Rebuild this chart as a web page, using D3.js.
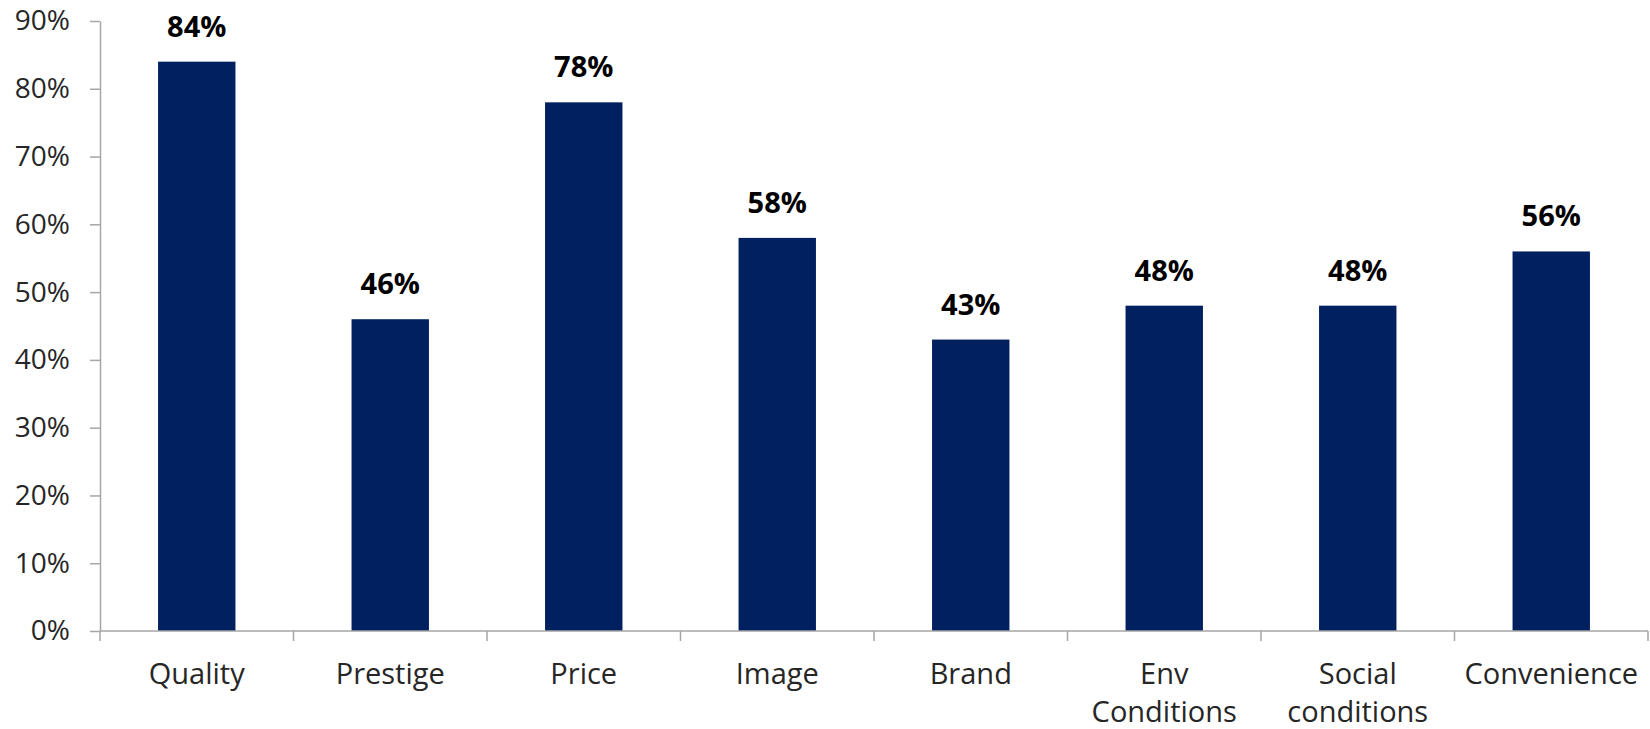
<!DOCTYPE html>
<html>
<head>
<meta charset="utf-8">
<script src="https://cdn.jsdelivr.net/npm/d3@7"></script>
<style>
  html, body { margin: 0; padding: 0; background: #fff; }
  svg { display: block; }
  text { font-family: "Open Sans", "Noto Sans", sans-serif; }
</style>
</head>
<body>
<svg id="chart" width="1650" height="729"></svg>
<script>
// Share of respondents naming each factor
const categories = ["Quality", "Prestige", "Price", "Image", "Brand", "Env Conditions", "Social conditions", "Convenience"];
const values = [0.84, 0.46, 0.78, 0.58, 0.43, 0.48, 0.48, 0.56];
const yTicks = [0, 0.1, 0.2, 0.3, 0.4, 0.5, 0.6, 0.7, 0.8, 0.9];

const W = 1650, H = 729;
const margin = { top: 21, right: 2, bottom: 98, left: 100 };
const innerW = W - margin.left - margin.right;
const innerH = H - margin.top - margin.bottom;

const svg = d3.select("#chart");
const g = svg.append("g").attr("transform", `translate(${margin.left},${margin.top})`);

const x = d3.scaleBand().domain(categories).range([0, innerW]).paddingInner(0.6).paddingOuter(0.3);
const y = d3.scaleLinear().domain([0, 0.9]).range([innerH, 0]);

const axisColor = "#a6a6a6";
const fmt = d3.format(".0%");

// Y axis
const yAxis = g.append("g")
  .call(d3.axisLeft(y).tickValues(yTicks).tickFormat(fmt).tickSize(10).tickSizeOuter(0).tickPadding(20));
yAxis.select(".domain").attr("stroke", axisColor).attr("stroke-width", 1.5);
yAxis.selectAll(".tick line").attr("stroke", axisColor).attr("stroke-width", 1.5);
yAxis.selectAll(".tick text")
  .attr("fill", "#262626")
  .style("font-size", "28px");

// Bars
g.selectAll("rect.bar")
  .data(categories)
  .join("rect")
  .attr("class", "bar")
  .attr("x", d => x(d))
  .attr("width", x.bandwidth())
  .attr("y", (d, i) => y(values[i]))
  .attr("height", (d, i) => innerH - y(values[i]))
  .attr("fill", "#002060");

// Value labels
g.selectAll("text.value")
  .data(categories)
  .join("text")
  .attr("class", "value")
  .attr("x", d => x(d) + x.bandwidth() / 2)
  .attr("y", (d, i) => y(values[i]) - 25)
  .attr("text-anchor", "middle")
  .attr("fill", "#000")
  .style("font-size", "29px")
  .style("font-weight", "bold")
  .text((d, i) => fmt(values[i]));

// X axis baseline with ticks at category boundaries
const step = x.step();
const xAxis = g.append("g").attr("transform", `translate(0,${innerH})`);
xAxis.append("line")
  .attr("x1", 0).attr("x2", innerW)
  .attr("y1", 0).attr("y2", 0)
  .attr("stroke", axisColor).attr("stroke-width", 1.5);
xAxis.selectAll("line.sep")
  .data(d3.range(categories.length + 1))
  .join("line")
  .attr("class", "sep")
  .attr("x1", i => i * step).attr("x2", i => i * step)
  .attr("y1", 0).attr("y2", 10)
  .attr("stroke", axisColor).attr("stroke-width", 1.5);

// Category labels, wrapped onto two lines where needed
const lineGap = 38;
xAxis.selectAll("text.cat")
  .data(categories)
  .join("text")
  .attr("class", "cat")
  .attr("text-anchor", "middle")
  .attr("fill", "#262626")
  .style("font-size", "29px")
  .attr("transform", d => `translate(${x(d) + x.bandwidth() / 2},53)`)
  .each(function (d) {
    const words = d.split(" ");
    const t = d3.select(this);
    words.forEach((w, k) => {
      t.append("tspan").attr("x", 0).attr("y", k * lineGap).text(w);
    });
  });
</script>
</body>
</html>
